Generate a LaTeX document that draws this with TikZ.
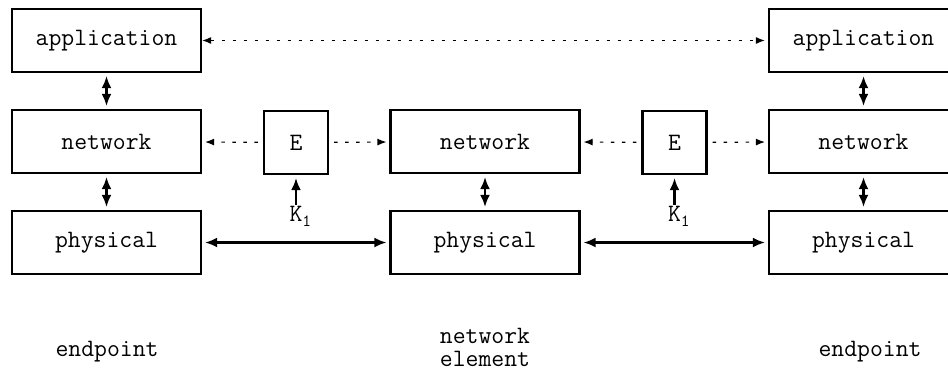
\documentclass[tikz,border=0pt]{standalone}
\usetikzlibrary{arrows.meta}

\begin{document}
\begin{tikzpicture}[x=1pt,y=-1pt,
                    layer/.style={draw,line width=2.2pt,minimum width=189pt,minimum height=63pt,inner sep=0pt,font=\fontsize{25}{27}\selectfont\ttfamily},
                    cipher/.style={layer,minimum width=64pt},
                    caption/.style={font=\fontsize{25}{23}\selectfont\ttfamily,align=center},
                    link arrow/.style={>={Latex[length=12pt,width=10pt]},line width=2.2pt,shorten <=3pt,shorten >=3pt},
                    peer arrow/.style={>={Latex[length=9pt,width=7pt]},line width=1.2pt,dash pattern=on 3.5pt off 7.5pt,shorten >=3pt}]
  \useasboundingbox (0,0) rectangle (948,376);

  % endpoint on the left
  \node[layer] (appL) at (106.5,40.5) {application};
  \node[layer] (netL) at (106.5,141.5) {network};
  \node[layer] (phyL) at (106.5,242.5) {physical};

  % network element in the middle
  \node[layer] (netM) at (485,141.5) {network};
  \node[layer] (phyM) at (485,242.5) {physical};

  % endpoint on the right
  \node[layer] (appR) at (863.5,40.5) {application};
  \node[layer] (netR) at (863.5,141.5) {network};
  \node[layer] (phyR) at (863.5,242.5) {physical};

  % encryption boxes and keys
  \node[cipher] (encL) at (296,142.5) {E};
  \node[cipher] (encR) at (674.5,142.5) {E};
  \node[caption,anchor=north,inner sep=1pt] (keyL) at (296,205) {K\rlap{\raisebox{-0.5ex}{\fontsize{17}{17}\selectfont 1}}};
  \node[caption,anchor=north,inner sep=1pt] (keyR) at (674.5,205) {K\rlap{\raisebox{-0.5ex}{\fontsize{17}{17}\selectfont 1}}};

  \node[caption] (endL) at (107,352) {endpoint};
  \node[caption] (elemM) at (485,347) {network\\element};
  \node[caption] (endR) at (870,352) {endpoint};

  \draw[link arrow,<->] (appL) -- (netL);
  \draw[link arrow,<->] (netL) -- (phyL);
  \draw[link arrow,<->] (netM) -- (phyM);
  \draw[link arrow,<->] (appR) -- (netR);
  \draw[link arrow,<->] (netR) -- (phyR);
  \draw[link arrow,<->] (phyL) -- (phyM);
  \draw[link arrow,<->] (phyM) -- (phyR);
  \draw[link arrow,->,shorten <=0pt] (keyL) -- (encL);
  \draw[link arrow,->,shorten <=0pt] (keyR) -- (encR);

  \draw[peer arrow,<->] (appL) -- (appR);
  \draw[peer arrow,->,shorten <=5pt] (encL) -- (netL);
  \draw[peer arrow,->,shorten <=5pt] (encL) -- (netM);
  \draw[peer arrow,->,shorten <=5pt] (encR) -- (netM);
  \draw[peer arrow,->,shorten <=5pt] (encR) -- (netR);
\end{tikzpicture}
\end{document}
